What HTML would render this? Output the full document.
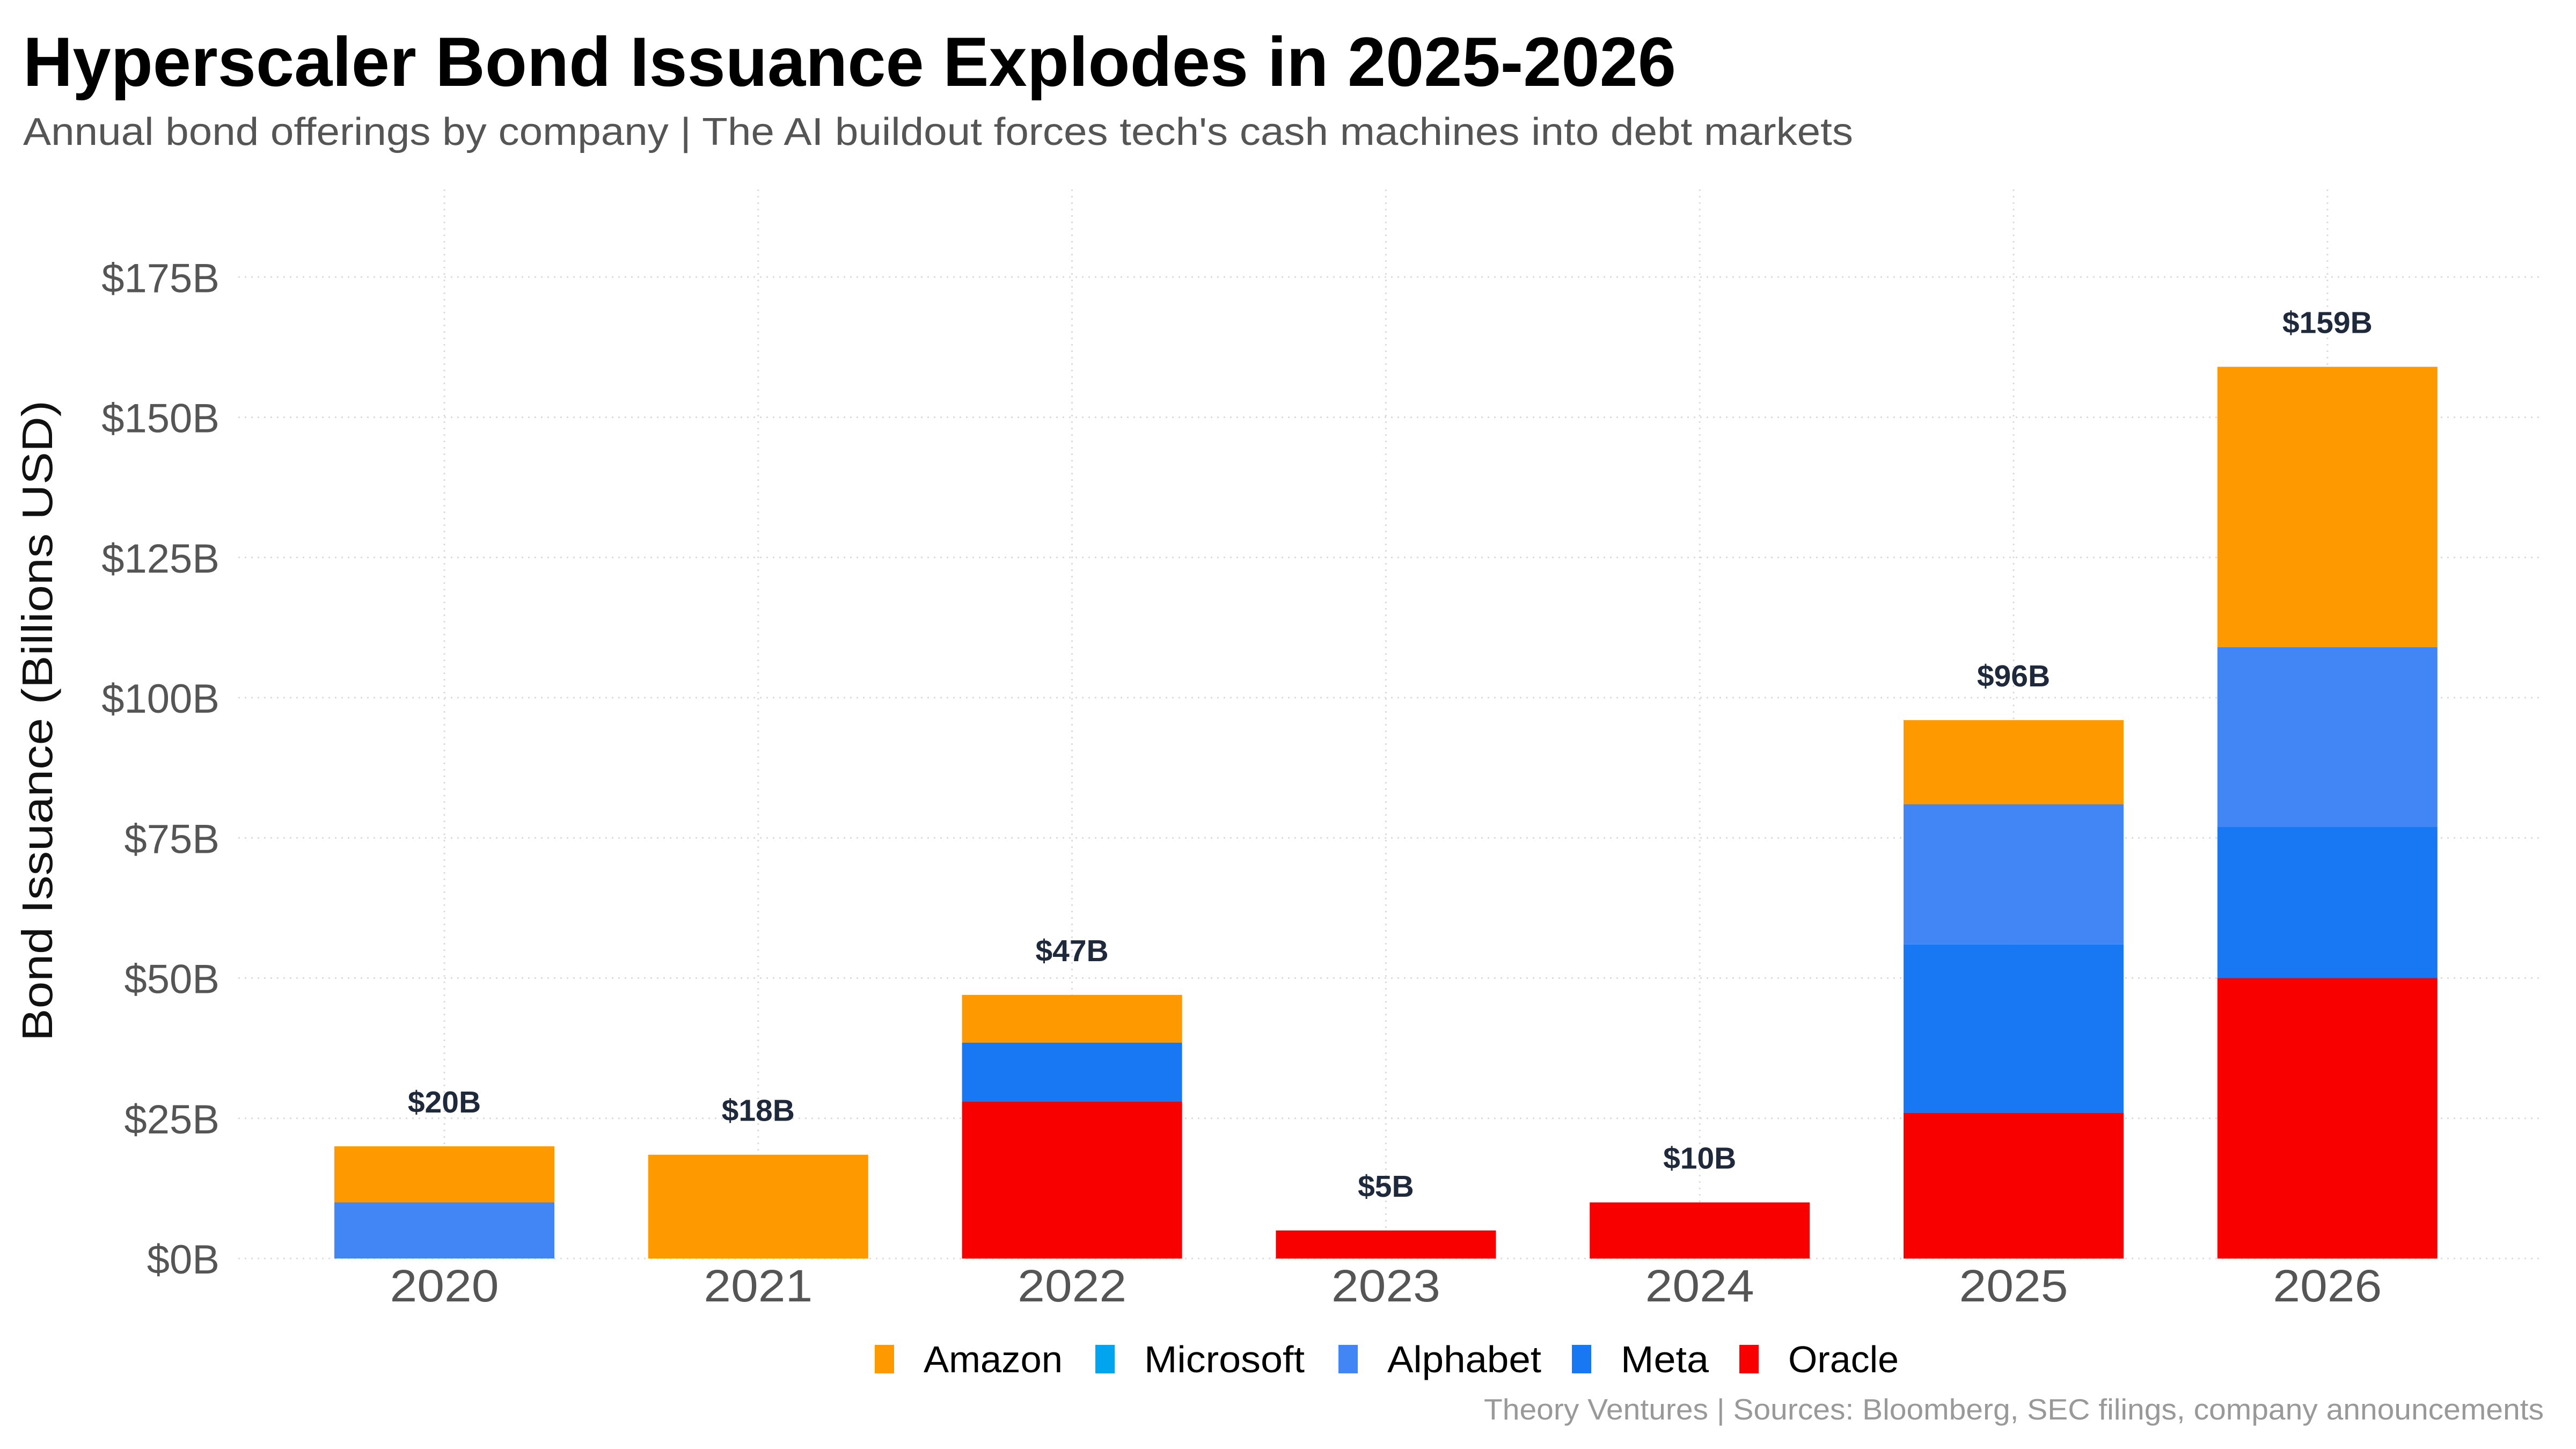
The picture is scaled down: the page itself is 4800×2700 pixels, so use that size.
<!DOCTYPE html>
<html><head><meta charset="utf-8"><style>
html,body{margin:0;padding:0;background:#fff;}
svg{display:block;font-family:"Liberation Sans",sans-serif;}
</style></head><body>
<svg id="chart" width="4800" height="2700" viewBox="0 0 4800 2700" xmlns="http://www.w3.org/2000/svg">
<rect width="4800" height="2700" fill="#fff"/>
<text x="43" y="160" font-size="130" font-weight="bold" fill="#000" textLength="3080" lengthAdjust="spacingAndGlyphs">Hyperscaler Bond Issuance Explodes in 2025-2026</text>
<text x="43" y="270" font-size="72" fill="#555" textLength="3410" lengthAdjust="spacingAndGlyphs">Annual bond offerings by company | The AI buildout forces tech's cash machines into debt markets</text>
<g id="grid"></g>
<g id="bars"></g>
<g id="labels"></g>
<text transform="translate(97,1343) rotate(-90)" text-anchor="middle" font-size="80" fill="#111" textLength="1194" lengthAdjust="spacingAndGlyphs">Bond Issuance (Billions USD)</text>
<g id="legend"></g>
<text x="4740" y="2645" text-anchor="end" font-size="55" fill="#999" textLength="1975" lengthAdjust="spacingAndGlyphs">Theory Ventures | Sources: Bloomberg, SEC filings, company announcements</text>
</svg>
<script>
const years = ["2020","2021","2022","2023","2024","2025","2026"];
const seriesNames = ["Oracle","Meta","Alphabet","Microsoft","Amazon"];
const oracle = [0,0,28,5,10,26,50];
const meta = [0,0,10.5,0,0,30,27];
const alphabet = [10,0,0,0,0,25,32];
const microsoft = [0,0,0,0,0,0,0];
const amazon = [10,18.5,8.5,0,0,15,50];
const totalLabels = ["$20B","$18B","$47B","$5B","$10B","$96B","$159B"];
const yTicks = [0,25,50,75,100,125,150,175];
const yTickLabels = ["$0B","$25B","$50B","$75B","$100B","$125B","$150B","$175B"];
const legendNames = ["Amazon","Microsoft","Alphabet","Meta","Oracle"];

const colors = {Amazon:"#FF9900",Microsoft:"#00A4EF",Alphabet:"#4285F4",Meta:"#1877F2",Oracle:"#F80000"};
const NS = "http://www.w3.org/2000/svg";
const y0 = 2345, pxPerB = 10.45;
function yScale(v){ return y0 - v*pxPerB; }
const x0 = 828, step = 584.8, barW = 410;
function xScale(i){ return x0 + i*step; }
function mk(tag, attrs, parent){
  const e = document.createElementNS(NS, tag);
  for (const k in attrs) e.setAttribute(k, attrs[k]);
  parent.appendChild(e); return e;
}
const grid = document.getElementById('grid');
yTicks.forEach((t,i)=>{
  const l = mk('line',{x1:444,x2:4740,y1:yScale(t),y2:yScale(t),stroke:"#dcdcdc","stroke-width":3,"stroke-dasharray":"3 9"},grid);
  
  
  const tx = mk('text',{x:409,y:yScale(t)+28,"text-anchor":"end","font-size":76,fill:"#555"},grid);
  tx.textContent = yTickLabels[i];
  
  
});
years.forEach((yr,i)=>{
  const l = mk('line',{x1:xScale(i),x2:xScale(i),y1:353,y2:y0,stroke:"#dcdcdc","stroke-width":3,"stroke-dasharray":"3 9"},grid);
  
  
});
const bars = document.getElementById('bars');
const labels = document.getElementById('labels');
const seriesData = {Oracle:oracle,Meta:meta,Alphabet:alphabet,Microsoft:microsoft,Amazon:amazon};
years.forEach((yr,i)=>{
  let cum = 0;
  seriesNames.forEach(s=>{
    const v = seriesData[s][i];
    if (v>0){
      const r = mk('rect',{x:xScale(i)-barW/2,y:yScale(cum+v),width:barW,height:v*pxPerB,fill:colors[s]},bars);
      
      
    }
    cum += v;
  });
  const vl = mk('text',{x:xScale(i),y:yScale(cum)-63,"text-anchor":"middle","font-size":57,"font-weight":"bold",fill:"#1e293b"},labels);
  vl.textContent = totalLabels[i];
  
  
  const xl = mk('text',{x:xScale(i),y:2425,"text-anchor":"middle","font-size":84,fill:"#555",textLength:203,lengthAdjust:"spacingAndGlyphs"},labels);
  xl.textContent = yr;
  
  
});
const legend = document.getElementById('legend');
const legX = [1630,2041,2494,2929,3241];
const legW = [259,299,287,164,206];
legendNames.forEach((n,i)=>{
  const g = mk('g',{},legend);
  
  
  mk('rect',{x:legX[i],y:2506,width:36,height:53,fill:colors[n]},g);
  const t = mk('text',{x:legX[i]+91,y:2557,"font-size":70,fill:"#000",textLength:legW[i],lengthAdjust:"spacingAndGlyphs"},g);
  t.textContent = n;
});
</script>
</body></html>
